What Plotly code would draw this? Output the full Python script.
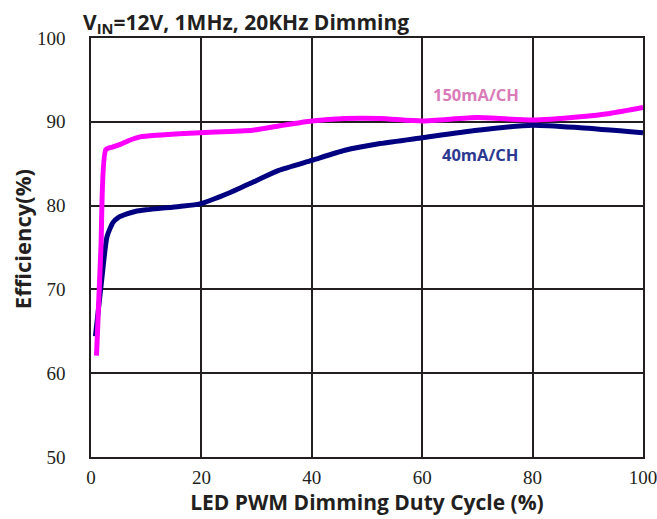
from plotly import graph_objs as go

# LED PWM dimming duty cycle (%) vs efficiency (%)
duty_150 = [1, 1.8, 2.7, 4, 5.3, 7, 8.9, 12, 19.7, 29.3, 34, 40, 46, 52.4, 60, 70, 80, 88.6, 94, 100]
eff_150 = [62.1, 75, 86.7, 87.0, 87.3, 87.8, 88.2, 88.4, 88.7, 89.0, 89.5, 90.1, 90.4, 90.4, 90.1, 90.5, 90.2, 90.6, 91.0, 91.7]

duty_40 = [0.8, 2, 2.9, 4, 5, 6.5, 8, 10, 16, 19.7, 25, 30, 34, 40, 46, 52.4, 60, 70, 80, 88.6, 100]
eff_40 = [64.4, 71.5, 76.3, 78.0, 78.6, 79.0, 79.3, 79.5, 79.9, 80.2, 81.5, 83.0, 84.2, 85.4, 86.6, 87.4, 88.1, 89.0, 89.6, 89.3, 88.7]

x_ticks = [0, 20, 40, 60, 80, 100]
y_ticks = [50, 60, 70, 80, 90, 100]

sans = "Open Sans"
serif = "Liberation Serif"
ink = "#231F20"

fig = go.Figure()

fig.add_trace(go.Scatter(
    x=duty_40, y=eff_40, mode="lines", name="40mA/CH",
    line=dict(color="#000080", width=5, shape="spline", smoothing=0.6),
))
fig.add_trace(go.Scatter(
    x=duty_150, y=eff_150, mode="lines", name="150mA/CH",
    line=dict(color="#FF00FF", width=5, shape="spline", smoothing=0.6),
))

fig.add_annotation(x=69.7, y=93.2, text="150mA/CH", showarrow=False,
                   font=dict(family=sans, size=16.5, color="#D97BB8", weight="bold"))
fig.add_annotation(x=70.5, y=86.1, text="40mA/CH", showarrow=False,
                   font=dict(family=sans, size=16.5, color="#2B3990", weight="bold"))

# y title as annotation so it sits where the original has it
fig.add_annotation(x=-0.126, y=0.521, xref="paper", yref="paper",
                   xanchor="center", yanchor="middle",
                   text="Efficiency(%)", textangle=-90, showarrow=False,
                   font=dict(family=sans, size=22, color=ink, weight="bold"))

fig.update_layout(
    width=657, height=519,
    margin=dict(l=91, r=14, t=38, b=62),
    paper_bgcolor="white", plot_bgcolor="white",
    showlegend=False,
    title=dict(
        text="V<sub>IN</sub>=12V, 1MHz, 20KHz Dimming",
        x=83 / 657, xref="container", xanchor="left",
        y=1 - 15 / 519, yref="container", yanchor="top",
        font=dict(family=sans, size=21, color=ink, weight="bold"),
    ),
)

fig.update_xaxes(
    range=[0, 100], tickvals=x_ticks, ticks="",
    showgrid=True, gridcolor=ink, gridwidth=1.5,
    showline=True, linecolor=ink, linewidth=1.5, mirror=True,
    zeroline=False, ticklabelstandoff=2, ticklabeloverflow="allow",
    automargin=False,
    tickfont=dict(family=serif, size=19, color=ink),
    title=dict(text="LED PWM Dimming Duty Cycle (%)", standoff=2,
               font=dict(family=sans, size=21, color=ink, weight="bold")),
)
fig.update_yaxes(
    range=[50, 100], tickvals=y_ticks, ticks="",
    showgrid=True, gridcolor=ink, gridwidth=1.5,
    showline=True, linecolor=ink, linewidth=1.5, mirror=True,
    zeroline=False, ticklabelstandoff=20, automargin=False,
    tickfont=dict(family=serif, size=19, color=ink),
)

# drop the page's default 8px body margin so the figure fills the window
fig.write_html("out.html", config={"displayModeBar": False},
               post_script="document.body.style.margin = '0';")
